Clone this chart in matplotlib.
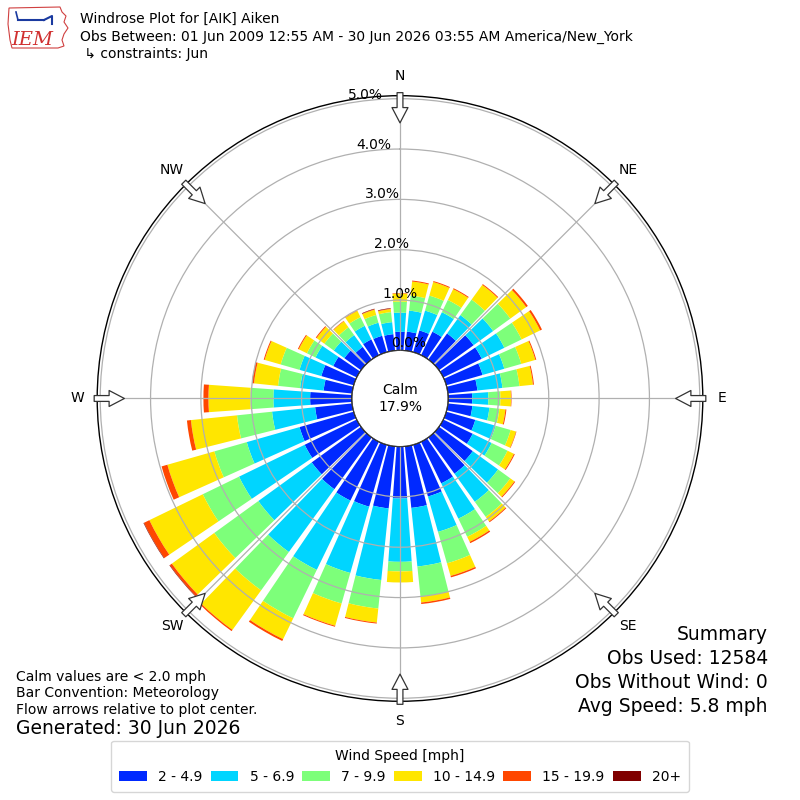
import numpy as np
import matplotlib
matplotlib.use('Agg')
import matplotlib.pyplot as plt
from matplotlib import transforms
from matplotlib.patches import Circle, Patch, Polygon

# Datos (porcentaje de observaciones por direccion y rango de velocidad)
directions = list(range(0, 360, 10))
speed_labels = ['2 - 4.9', '5 - 6.9', '7 - 9.9', '10 - 14.9', '15 - 19.9', '20+']

freq_2_5 = [0.37, 0.38, 0.45, 0.52, 0.64, 0.85, 0.85, 0.75, 0.59, 0.48,
            0.49, 0.60, 0.65, 0.83, 0.89, 0.92, 1.07, 1.23, 1.03, 1.24,
            1.28, 1.30, 1.27, 1.21, 1.15, 1.12, 0.74, 0.83, 0.57, 0.67,
            0.52, 0.41, 0.31, 0.35, 0.34, 0.33]
freq_5_7 = [0.38, 0.42, 0.41, 0.43, 0.45, 0.48, 0.50, 0.45, 0.50, 0.32,
            0.34, 0.42, 0.42, 0.62, 0.69, 0.78, 0.73, 1.17, 1.26, 1.43,
            1.37, 1.53, 1.54, 1.31, 1.45, 1.09, 0.86, 0.73, 0.47, 0.45,
            0.39, 0.26, 0.29, 0.30, 0.27, 0.24]
freq_7_10 = [0.22, 0.30, 0.31, 0.27, 0.38, 0.42, 0.38, 0.35, 0.34, 0.24,
             0.20, 0.31, 0.35, 0.30, 0.37, 0.40, 0.65, 0.60, 0.19, 0.57,
             0.63, 1.07, 0.94, 1.08, 0.80, 0.67, 0.70, 0.46, 0.44, 0.39,
             0.19, 0.23, 0.19, 0.19, 0.16, 0.20]
freq_10_15 = [0.16, 0.28, 0.28, 0.24, 0.36, 0.39, 0.41, 0.29, 0.27, 0.21,
              0.12, 0.11, 0.14, 0.10, 0.11, 0.11, 0.26, 0.12, 0.22, 0.28,
              0.46, 0.46, 0.97, 1.04, 1.18, 0.97, 0.92, 0.83, 0.48, 0.33,
              0.18, 0.19, 0.15, 0.14, 0.11, 0.06]
freq_15_20 = [0.01, 0.02, 0.02, 0.02, 0.02, 0.04, 0.04, 0.02, 0.02, 0.01,
              0.02, 0.01, 0.02, 0.02, 0.02, 0.03, 0.03, 0.03, 0.00, 0.02,
              0.02, 0.04, 0.03, 0.05, 0.12, 0.12, 0.08, 0.10, 0.04, 0.02,
              0.02, 0.02, 0.01, 0.01, 0.01, 0.01]
freq_20_up = [0.00, 0.00, 0.00, 0.00, 0.00, 0.00, 0.00, 0.00, 0.00, 0.00,
              0.00, 0.00, 0.00, 0.00, 0.00, 0.00, 0.00, 0.00, 0.00, 0.00,
              0.00, 0.00, 0.00, 0.01, 0.01, 0.00, 0.00, 0.00, 0.00, 0.00,
              0.00, 0.00, 0.00, 0.00, 0.01, 0.01]

calm_pct = 17.9
rticks = [0, 1, 2, 3, 4, 5]
compass = ['N', 'NE', 'E', 'SE', 'S', 'SW', 'W', 'NW']

series = [freq_2_5, freq_5_7, freq_7_10, freq_10_15, freq_15_20, freq_20_up]
colors = plt.cm.jet(np.linspace(0, 1, 7)[1:])

fig = plt.figure(figsize=(8, 8), dpi=100)
ax = fig.add_axes([0.1215, 0.1234, 0.757, 0.757], projection='polar')
ax.set_theta_zero_location('N')
ax.set_theta_direction(-1)

theta = np.deg2rad(directions)
width = np.deg2rad(8.2)
bottom = np.zeros(len(directions))
for vals, col in zip(series, colors):
    vals = np.array(vals)
    ax.bar(theta, vals, width=width, bottom=bottom, color=col,
           edgecolor='none', zorder=1)
    bottom += vals

ax.set_ylim(0, 5.06)
ax.set_rorigin(-0.955)
ax.set_yticks(rticks)
ax.set_yticklabels([])
ax.set_xticks(np.deg2rad(np.arange(0, 360, 45)))
ax.set_xticklabels([])
ax.grid(True, color='#b0b0b0', lw=0.9)
ax.set_axisbelow(False)
ax.spines['polar'].set_color('black')
ax.spines['polar'].set_linewidth(1.0)

# etiquetas radiales
off = transforms.offset_copy(ax.transData, fig=fig, x=17.4, y=8, units='dots')
for v in rticks:
    ax.text(np.deg2rad(350), v, f'{v:.1f}%', transform=off, ha='center',
            va='center', fontsize=10, zorder=5)

# circulo de calma
calm = Circle((0.5, 0.5), 48 / 605.6, transform=ax.transAxes, fc='white',
              ec='black', lw=1.0, zorder=4)
ax.add_patch(calm)
ax.text(0.5, 0.5, f'Calm\n{calm_pct:.1f}%', transform=ax.transAxes,
        ha='center', va='center', fontsize=10, zorder=5)

# flechas y puntos cardinales
for i, lab in enumerate(compass):
    t = np.deg2rad(i * 45)
    ax.text(t, 5.45, lab, ha='center', va='center', fontsize=10)
    ax.annotate('', xy=(t, 4.52), xytext=(t, 5.12),
                arrowprops=dict(arrowstyle='simple,head_length=1.1,head_width=1.15,tail_width=0.42',
                                fc='white', ec='#333333', lw=0.9,
                                shrinkA=0, shrinkB=0),
                annotation_clip=False, zorder=6)

# encabezado
fig.text(80 / 800, 1 - 19 / 800, 'Windrose Plot for [AIK] Aiken', fontsize=10, va='center')
fig.text(80 / 800, 1 - 37 / 800,
         'Obs Between: 01 Jun 2009 12:55 AM - 30 Jun 2026 03:55 AM America/New_York',
         fontsize=10, va='center')
fig.text(80 / 800, 1 - 54 / 800, ' \u21b3 constraints: Jun', fontsize=10, va='center')

# logo aproximado
logo = fig.add_axes([6 / 800, 1 - 50 / 800, 64 / 800, 46 / 800])
logo.set_xlim(0, 64)
logo.set_ylim(46, 0)
logo.axis('off')
iowa = [(3, 4), (54, 3), (56, 8), (60, 12), (58, 18), (62, 24), (58, 30),
        (56, 36), (58, 42), (52, 44), (6, 44), (4, 36), (2, 20)]
logo.add_patch(Polygon(iowa, closed=True, fill=False, ec='#d04040', lw=0.8))
logo.plot([12, 38], [16, 16], color='#1a3aa0', lw=1.5)
logo.plot([12, 10], [16, 8], color='#1a3aa0', lw=1.2)
logo.plot([38, 46, 46], [16, 12, 20], color='#1a3aa0', lw=1.5)
logo.text(26, 36, 'IEM', color='#d03030', fontsize=14, family='serif',
          style='italic', ha='center', va='center')

# textos inferiores
fig.text(16 / 800, 1 - 677 / 800, 'Calm values are < 2.0 mph', fontsize=10, va='center')
fig.text(16 / 800, 1 - 693 / 800, 'Bar Convention: Meteorology', fontsize=10, va='center')
fig.text(16 / 800, 1 - 710 / 800, 'Flow arrows relative to plot center.', fontsize=10, va='center')
fig.text(16 / 800, 1 - 729 / 800, 'Generated: 30 Jun 2026', fontsize=13.5, va='center')

summary = ['Summary', 'Obs Used: 12584', 'Obs Without Wind: 0', 'Avg Speed: 5.8 mph']
for k, line in enumerate(summary):
    fig.text(768 / 800, 1 - (635 + 24 * k) / 800, line, fontsize=13.5,
             ha='right', va='center')

handles = [Patch(facecolor=c, edgecolor='none') for c in colors]
fig.legend(handles, speed_labels, ncol=6, loc='lower center',
           bbox_to_anchor=(0.5, 0.001), title='Wind Speed [mph]',
           fontsize=10, title_fontsize=10, columnspacing=0.6,
           borderpad=0.6)

fig.savefig('out.png', dpi=100)
